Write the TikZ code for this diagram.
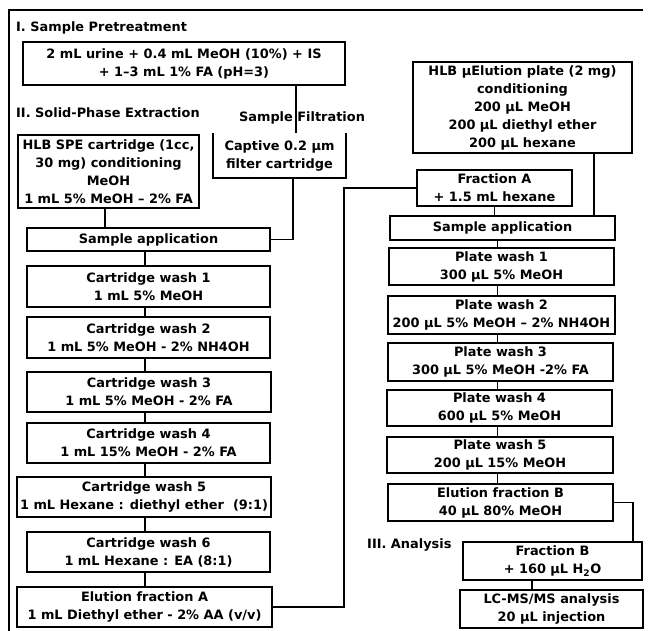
\documentclass[tikz,border=0pt]{standalone}
\usepackage{fontspec}
\setmainfont{DejaVu Sans}
\tikzset{
  base/.style={font=\fontsize{12.9}{18}\selectfont\bfseries, inner sep=0pt, align=center},
  bx/.style n args={2}{base, draw, line width=1.9pt, minimum width=#1, minimum height=#2},
  conn/.style={line width=1.9pt},
  lbl/.style={base, anchor=west}
}
\begin{document}
\begin{tikzpicture}[x=1pt, y=-1pt]
\useasboundingbox (0,0) rectangle (649,631);
\fill[white] (0,0) rectangle (649,631);
% frame
\coordinate (fr1) at (643,10);
\coordinate (fr2) at (9,10);
\coordinate (fr3) at (9,631);
\draw[conn] (fr1) -- (fr2) -- (fr3);

% section labels
\node[lbl] (t1) at (16,28) {I. Sample Pretreatment};
\node[lbl] (t2) at (16,113) {II. Solid-Phase Extraction};
\node[lbl] (t3) at (367,545) {III. Analysis};

% left column
\node[bx={322pt}{43pt}] (pre) at (184,63.5) {2 mL urine + 0.4 mL MeOH (10\%) + IS\\+ 1–3 mL 1\% FA (pH=3)};
\node[bx={181pt}{73pt}] (spe) at (108.5,171.5) {HLB SPE cartridge (1cc,\\30 mg) conditioning\\MeOH\\1 mL 5\% MeOH – 2\% FA};
\node[base, minimum width=133pt, minimum height=45pt] (filt) at (279.5,155.5) {Captive 0.2 µm\\filter cartridge};
\draw[conn] (filt.north west) -- (filt.south west) -- (filt.south east) -- (filt.north east);
\node[base] (sf) at (302,118) {Sample Filtration};

\node[bx={243pt}{23pt}] (sa1) at (148.5,239.5) {Sample application};
\node[bx={243pt}{41pt}] (cw1) at (148.5,286.5) {Cartridge wash 1\\1 mL 5\% MeOH};
\node[bx={243pt}{41pt}] (cw2) at (148.5,337.5) {Cartridge wash 2\\1 mL 5\% MeOH - 2\% NH4OH};
\node[bx={244pt}{40pt}] (cw3) at (149,392) {Cartridge wash 3\\1 mL 5\% MeOH - 2\% FA};
\node[bx={243pt}{40pt}] (cw4) at (148.5,443) {Cartridge wash 4\\1 mL 15\% MeOH - 2\% FA};
\node[bx={254pt}{40pt}] (cw5) at (144,497) {Cartridge wash 5\\1 mL Hexane : diethyl ether\ \ (9:1)};
\node[bx={243pt}{40pt}] (cw6) at (148.5,552) {Cartridge wash 6\\1 mL Hexane : EA (8:1)};
\node[bx={255pt}{40pt}] (elA) at (144.5,607) {Elution fraction A\\1 mL Diethyl ether - 2\% AA (v/v)};

% right column
\node[bx={219pt}{91pt}] (hlbu) at (522.5,107.5) {HLB µElution plate (2 mg)\\conditioning\\200 µL MeOH\\200 µL diethyl ether\\200 µL hexane};
\node[bx={155pt}{36pt}] (fracA) at (494.5,188) {Fraction A\\+ 1.5 mL hexane};
\node[bx={225pt}{24pt}] (sa2) at (502.5,228) {Sample application};
\node[bx={225pt}{37pt}] (pw1) at (501.5,266.5) {Plate wash 1\\300 µL 5\% MeOH};
\node[bx={227pt}{38pt}] (pw2) at (501.5,315) {Plate wash 2\\200 µL 5\% MeOH – 2\% NH4OH};
\node[bx={225pt}{38pt}] (pw3) at (500.5,362) {Plate wash 3\\300 µL 5\% MeOH -2\% FA};
\node[bx={225pt}{36pt}] (pw4) at (499.5,408) {Plate wash 4\\600 µL 5\% MeOH};
\node[bx={226pt}{36pt}] (pw5) at (500,455) {Plate wash 5\\200 µL 15\% MeOH};
\node[bx={225pt}{37pt}] (elB) at (500.5,502.5) {Elution fraction B\\40 µL 80\% MeOH};
\node[bx={179pt}{38pt}] (fracB) at (552.5,561) {Fraction B\\+ 160 µL H\textsubscript{2}O};
\node[bx={183pt}{38pt}] (lcms) at (551.5,609) {LC-MS/MS analysis\\20 µL injection};

% connectors left
\draw[conn] ([xshift=16.5pt]filt.north) -- ([xshift=16.5pt]filt.north |- pre.south);
\draw[conn] ([xshift=13.5pt]filt.south) |- (sa1.east);
\draw[conn] ([xshift=-3.5pt]spe.south) -- ([xshift=-3.5pt]spe.south |- sa1.north);
\foreach \a/\b in {sa1/cw1, cw1/cw2, cw2/cw3, cw3/cw4, cw4/cw5, cw5/cw6, cw6/elA}{
  \draw[conn] ([xshift=-3.5pt]\a.south -| cw1.center) -- ([xshift=-3.5pt]\b.north -| cw1.center);
}
\draw[conn] (elA.east) -| ([xshift=-72pt]fracA.west) -- (fracA.west);

% connectors right
\draw[conn] (fracA.south) -- (fracA.south |- sa2.north);
\draw[conn] ([xshift=71.5pt]hlbu.south) -- ([xshift=71.5pt]hlbu.south |- sa2.north);
\foreach \a/\b in {sa2/pw1, pw1/pw2, pw2/pw3, pw3/pw4, pw4/pw5, pw5/elB}{
  \draw[conn] ([xshift=-3pt]\a.south -| pw3.center) -- ([xshift=-3pt]\b.north -| pw3.center);
}
\draw[conn] (elB.east) -| ([xshift=80.5pt]fracB.north);
\draw[conn] ([xshift=-20.5pt]fracB.south) -- ([xshift=-20.5pt]fracB.south |- lcms.north);
\end{tikzpicture}
\end{document}
